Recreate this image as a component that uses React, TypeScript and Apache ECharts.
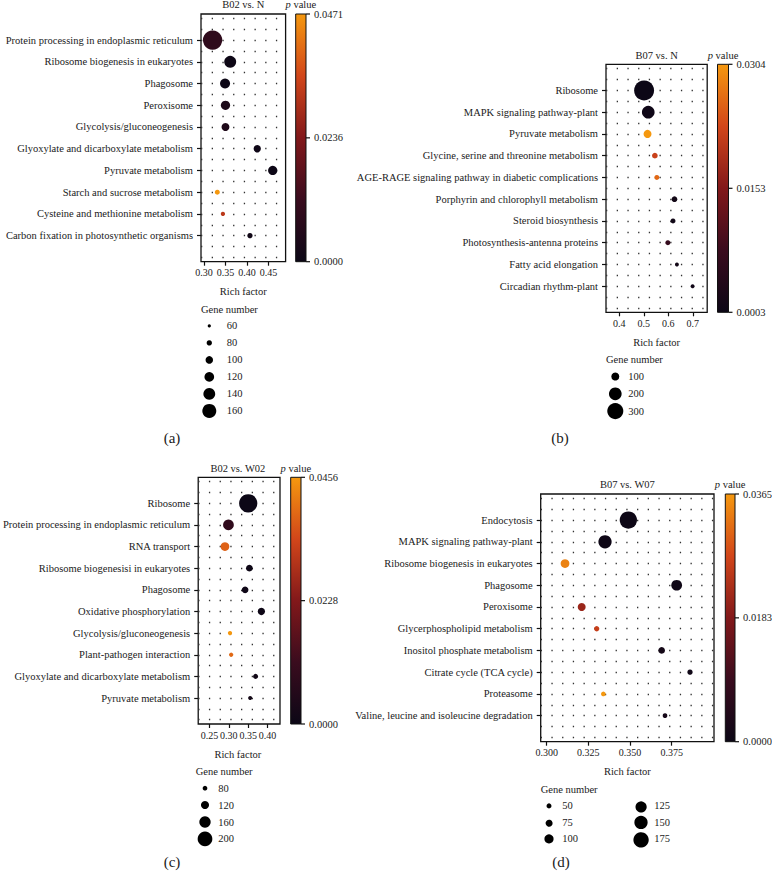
import React, { useEffect, useRef } from "react";
import * as echarts from "echarts";

const FONT = '"Liberation Serif", "Times New Roman", serif';

// ---------- data ----------
const catsA = [
  "Protein processing in endoplasmic reticulum",
  "Ribosome biogenesis in eukaryotes",
  "Phagosome",
  "Peroxisome",
  "Glycolysis/gluconeogenesis",
  "Glyoxylate and dicarboxylate metabolism",
  "Pyruvate metabolism",
  "Starch and sucrose metabolism",
  "Cysteine and methionine metabolism",
  "Carbon fixation in photosynthetic organisms",
];
const richA = [0.32, 0.361, 0.349, 0.35, 0.35, 0.424, 0.46, 0.331, 0.344, 0.407];
const genesA = [209, 141, 123, 116, 104, 98, 116, 77, 70, 79];
const pA = [0.009, 0.0005, 0.0003, 0.004, 0.0045, 0.0008, 0.0002, 0.0471, 0.032, 0.0012];
const ticksA = [0.3, 0.35, 0.4, 0.45];
const cbarA = ["0.0471", "0.0236", "0.0000"];
const legendA = [60, 80, 100, 120, 140, 160];

const catsB = [
  "Ribosome",
  "MAPK signaling pathway-plant",
  "Pyruvate metabolism",
  "Glycine, serine and threonine metabolism",
  "AGE-RAGE signaling pathway in diabetic complications",
  "Porphyrin and chlorophyll metabolism",
  "Steroid biosynthesis",
  "Photosynthesis-antenna proteins",
  "Fatty acid elongation",
  "Circadian rhythm-plant",
];
const richB = [0.501, 0.518, 0.515, 0.545, 0.553, 0.625, 0.619, 0.598, 0.635, 0.699];
const genesB = [446, 200, 100, 67, 60, 67, 60, 60, 50, 50];
const pB = [0.0003, 0.0008, 0.0304, 0.022, 0.026, 0.0015, 0.0012, 0.007, 0.0015, 0.001];
const ticksB = [0.4, 0.5, 0.6, 0.7];
const cbarB = ["0.0304", "0.0153", "0.0003"];
const legendB = [100, 200, 300];

const catsC = [
  "Ribosome",
  "Protein processing in endoplasmic reticulum",
  "RNA transport",
  "Ribosome biogenesisi in eukaryotes",
  "Phagosome",
  "Oxidative phosphorylation",
  "Glycolysis/gluconeogenesis",
  "Plant-pathogen interaction",
  "Glyoxylate and dicarboxylate metabolism",
  "Pyruvate metabolism",
];
const richC = [0.35, 0.299, 0.29, 0.353, 0.342, 0.384, 0.303, 0.306, 0.369, 0.355];
const genesC = [243, 152, 128, 104, 104, 111, 75, 75, 84, 72];
const pC = [0.0001, 0.009, 0.038, 0.0005, 0.0008, 0.0006, 0.0456, 0.039, 0.0015, 0.002];
const ticksC = [0.25, 0.3, 0.35, 0.4];
const cbarC = ["0.0456", "0.0228", "0.0000"];
const legendC = [80, 120, 160, 200];

const catsD = [
  "Endocytosis",
  "MAPK signaling pathway-plant",
  "Ribosome biogenesis in eukaryotes",
  "Phagosome",
  "Peroxisome",
  "Glycerphospholipid metabolism",
  "Inositol phosphate metabolism",
  "Citrate cycle (TCA cycle)",
  "Proteasome",
  "Valine, leucine and isoleucine degradation",
];
const richD = [0.349, 0.335, 0.311, 0.378, 0.321, 0.33, 0.369, 0.386, 0.334, 0.371];
const genesD = [199, 150, 95, 119, 86, 54, 70, 54, 46, 46];
const pD = [0.0001, 0.0003, 0.034, 0.0005, 0.021, 0.026, 0.0015, 0.001, 0.0365, 0.002];
const ticksD = [0.3, 0.325, 0.35, 0.375];
const cbarD = ["0.0365", "0.0183", "0.0000"];
const legendD = [50, 75, 100, 125, 150, 175];

const colorStops = ["#0c0716", "#3a0c1e", "#82181a", "#d2461a", "#f5980f"];

// ---------- layout ----------
type Panel = {
  title: string;
  tag: string;
  cats: string[];
  rich: number[];
  genes: number[];
  p: number[];
  ticks: number[];
  digits: number;
  cbar: string[];
  legend: number[];
  pMin: number;
  pMax: number;
  xMin: number;
  xMax: number;
  box: number[]; // left, top, right, bottom
  cb: number[]; // colorbar left, right
  size: (g: number) => number;
  lgCircleDx: number;
  lgLabelDx: number;
  lgRowGap: number;
  lgPerCol: number;
  lgColDx: number;
  tagPos: number[];
};

const panels: Panel[] = [
  {
    title: "B02 vs. N", tag: "(a)", cats: catsA, rich: richA, genes: genesA, p: pA,
    ticks: ticksA, digits: 2, cbar: cbarA, legend: legendA, pMin: 0, pMax: 0.0471,
    xMin: 0.293, xMax: 0.49, box: [201, 14, 285.6, 261.7], cb: [295.7, 306],
    size: (g) => 8.6 + 0.108 * (g - 110),
    lgCircleDx: 8.3, lgLabelDx: 25.7, lgRowGap: 17, lgPerCol: 6, lgColDx: 0, tagPos: [172, 438],
  },
  {
    title: "B07 vs. N", tag: "(b)", cats: catsB, rich: richB, genes: genesB, p: pB,
    ticks: ticksB, digits: 1, cbar: cbarB, legend: legendB, pMin: 0.0003, pMax: 0.0304,
    xMin: 0.3455, xMax: 0.7586, box: [606, 64.3, 707.2, 312.3], cb: [717.5, 728.5],
    size: (g) => Math.sqrt(Math.max(0.97 * g - 33, 4)),
    lgCircleDx: 9.3, lgLabelDx: 22.3, lgRowGap: 17.3, lgPerCol: 3, lgColDx: 0, tagPos: [560, 438],
  },
  {
    title: "B02 vs. W02", tag: "(c)", cats: catsC, rich: richC, genes: genesC, p: pC,
    ticks: ticksC, digits: 2, cbar: cbarC, legend: legendC, pMin: 0, pMax: 0.0456,
    xMin: 0.221, xMax: 0.432, box: [195.7, 477.3, 280, 724], cb: [290.7, 301],
    size: (g) => 4.7 + 0.0833 * (g - 80),
    lgCircleDx: 9.3, lgLabelDx: 22.6, lgRowGap: 16.9, lgPerCol: 4, lgColDx: 0, tagPos: [172, 862],
  },
  {
    title: "B07 vs. W07", tag: "(d)", cats: catsD, rich: richD, genes: genesD, p: pD,
    ticks: ticksD, digits: 3, cbar: cbarD, legend: legendD, pMin: 0, pMax: 0.0365,
    xMin: 0.2964, xMax: 0.4004, box: [540.7, 494, 714, 741.7], cb: [725.3, 735],
    size: (g) => 5 + 0.0827 * (g - 50),
    lgCircleDx: 8.3, lgLabelDx: 21.6, lgRowGap: 16.5, lgPerCol: 3, lgColDx: 92, tagPos: [561, 862],
  },
];

const PAD = 1.2;
const FS = 10.5;

function buildOption() {
  const grid: any[] = [];
  const xAxis: any[] = [];
  const yAxis: any[] = [];
  const series: any[] = [];
  const visualMap: any[] = [];
  const graphic: any[] = [];
  const txt = { fontFamily: FONT, fontSize: FS, fill: "#1a1a1a" };

  panels.forEach((pn, i) => {
    const [l, t, r, b] = pn.box;
    const n = pn.cats.length;
    grid.push({
      left: l, top: t, width: r - l, height: b - t, show: true,
      borderColor: "#111", borderWidth: 1.3, backgroundColor: "transparent",
    });
    xAxis.push({
      type: "value", gridIndex: i, min: pn.xMin, max: pn.xMax, position: "bottom",
      splitLine: { show: false }, axisLine: { show: false, onZero: false },
      axisTick: { show: true, length: 4, customValues: pn.ticks, lineStyle: { color: "#111", width: 1.2 } },
      axisLabel: {
        customValues: pn.ticks, formatter: (v: number) => v.toFixed(pn.digits),
        fontFamily: FONT, fontSize: 10, color: "#1a1a1a", margin: 6,
      },
    });
    const idx = pn.cats.map((_, k) => k);
    yAxis.push({
      type: "value", gridIndex: i, inverse: true, min: -PAD, max: n - 1 + PAD, position: "left",
      splitLine: { show: false }, axisLine: { show: false, onZero: false },
      axisTick: { show: true, length: 4, customValues: idx, lineStyle: { color: "#111", width: 1.2 } },
      axisLabel: {
        customValues: idx, formatter: (v: number) => pn.cats[Math.round(v)] ?? "",
        fontFamily: FONT, fontSize: FS, color: "#1a1a1a", margin: 8,
      },
    });
    const rows: number[] = [];
    for (let k = -2; k <= 2 * (n - 1) + 2; k++) rows.push(k / 2);
    series.push({
      type: "scatter", xAxisIndex: i, yAxisIndex: i, data: [], z: 1, silent: true,
      markLine: {
        silent: true, z: 1, symbol: ["none", "none"], label: { show: false },
        lineStyle: { type: [1.3, 9.4], color: "#333", width: 1.3 },
        emphasis: { disabled: true },
        data: rows.map((v) => ({ yAxis: v })),
      },
    });
    series.push({
      type: "scatter", xAxisIndex: i, yAxisIndex: i, z: 5,
      data: pn.cats.map((_, k) => [pn.rich[k], k, pn.genes[k], pn.p[k]]),
      symbolSize: (v: number[]) => pn.size(v[2]),
      itemStyle: { opacity: 1 },
    });
    visualMap.push({
      type: "continuous", show: false, seriesIndex: 2 * i + 1, dimension: 3,
      min: pn.pMin, max: pn.pMax, inRange: { color: colorStops },
    });

    const cx = (l + r) / 2;
    const [cl, cr] = pn.cb;
    graphic.push({ type: "text", x: cx, y: t - 9.3, style: { ...txt, text: pn.title, align: "center", verticalAlign: "middle" } });
    graphic.push({
      type: "text", x: (cl + cr) / 2, y: t - 9.3,
      style: { ...txt, text: "{i|p} value", align: "center", verticalAlign: "middle",
        rich: { i: { fontStyle: "italic", fontFamily: FONT, fontSize: FS, fill: "#1a1a1a" } } },
    });
    graphic.push({
      type: "rect", shape: { x: cl, y: t, width: cr - cl, height: b - t },
      style: {
        fill: new echarts.graphic.LinearGradient(0, 1, 0, 0,
          colorStops.map((c, k) => ({ offset: k / (colorStops.length - 1), color: c }))),
        stroke: "#111", lineWidth: 1,
      },
    });
    pn.cbar.forEach((lab, k) => {
      const yy = t + (b - t) * (k / (pn.cbar.length - 1));
      graphic.push({ type: "line", shape: { x1: cr, y1: yy, x2: cr + 4, y2: yy }, style: { stroke: "#111", lineWidth: 1.2 } });
      graphic.push({ type: "text", x: cr + 8, y: yy, style: { ...txt, text: lab, align: "left", verticalAlign: "middle" } });
    });
    graphic.push({ type: "text", x: cx, y: b + 30, style: { ...txt, text: "Rich factor", align: "center", verticalAlign: "middle" } });
    graphic.push({ type: "text", x: l, y: b + 47.3, style: { ...txt, text: "Gene number", align: "left", verticalAlign: "middle" } });
    pn.legend.forEach((g, k) => {
      const col = Math.floor(k / pn.lgPerCol);
      const row = k % pn.lgPerCol;
      const yy = b + 64.2 + row * pn.lgRowGap;
      const xx = l + pn.lgCircleDx + col * pn.lgColDx;
      graphic.push({ type: "circle", shape: { cx: xx, cy: yy, r: pn.size(g) / 2 }, style: { fill: "#000" } });
      graphic.push({ type: "text", x: l + pn.lgLabelDx + col * pn.lgColDx, y: yy, style: { ...txt, text: String(g), align: "left", verticalAlign: "middle" } });
    });
    graphic.push({
      type: "text", x: pn.tagPos[0], y: pn.tagPos[1],
      style: { fontFamily: FONT, fontSize: 15, fill: "#1a1a1a", text: pn.tag, align: "center", verticalAlign: "middle" },
    });
  });

  return {
    animation: false,
    backgroundColor: "#fff",
    grid, xAxis, yAxis, series, visualMap, graphic,
  };
}

export default function App() {
  const ref = useRef<HTMLDivElement>(null);
  useEffect(() => {
    if (!ref.current) return;
    const chart = echarts.init(ref.current, undefined, { renderer: "svg" });
    chart.setOption(buildOption() as any);
    return () => chart.dispose();
  }, []);
  return (
    <div
      ref={ref}
      style={{ position: "fixed", left: 0, top: 0, width: 772, height: 877, background: "#fff" }}
    />
  );
}
